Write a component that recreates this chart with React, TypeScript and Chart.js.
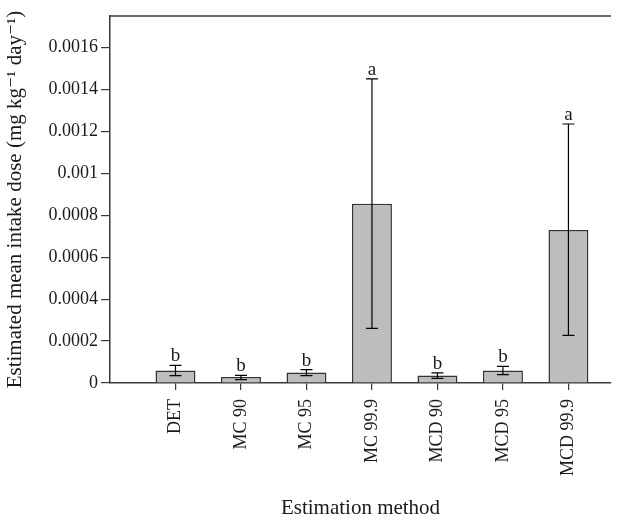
import React, { useEffect, useRef } from "react";
import { Chart, registerables } from "chart.js";

Chart.register(...registerables);

const categories = ["DET", "MC 90", "MC 95", "MC 99.9", "MCD 90", "MCD 95", "MCD 99.9"];
const meanValues = [0.00006, 0.000029, 0.00005, 0.000855, 0.000036, 0.00006, 0.00073];
const errorUpper = [0.000084, 0.000036, 0.0000635, 0.00145, 0.000048, 0.000079, 0.001235];
const errorLower = [0.000035, 0.000016, 0.000035, 0.00026, 0.000022, 0.00004, 0.000227];
const groupLetters = ["b", "b", "b", "a", "b", "b", "a"];
const yTickValues = [0, 0.0002, 0.0004, 0.0006, 0.0008, 0.001, 0.0012, 0.0014, 0.0016];
const yTickLabels = ["0", "0.0002", "0.0004", "0.0006", "0.0008", "0.001", "0.0012", "0.0014", "0.0016"];
const xTitle = "Estimation method";
const yTitle = "Estimated mean intake dose (mg kg\u207B\u00B9 day\u207B\u00B9)";

const FONT = "'Liberation Serif', 'DejaVu Serif', serif";
const AXIS_COLOR = "#3a3a3a";
const TEXT_COLOR = "#1a1a1a";

const extrasPlugin = {
  id: "extras",
  afterDatasetsDraw(chart: any) {
    const { ctx, chartArea, scales } = chart;
    const xs = scales.x;
    const ys = scales.y;
    ctx.save();
    // top frame line
    ctx.strokeStyle = AXIS_COLOR;
    ctx.lineWidth = 1.5;
    ctx.beginPath();
    ctx.moveTo(chartArea.left, chartArea.top);
    ctx.lineTo(chartArea.right, chartArea.top);
    ctx.stroke();
    // error bars
    ctx.strokeStyle = "#000";
    ctx.lineWidth = 1.2;
    const cap = 6;
    categories.forEach((_, i) => {
      const x = xs.getPixelForValue(i + 1);
      const yt = ys.getPixelForValue(errorUpper[i]);
      const yb = ys.getPixelForValue(errorLower[i]);
      ctx.beginPath();
      ctx.moveTo(x, yt);
      ctx.lineTo(x, yb);
      ctx.moveTo(x - cap, yt);
      ctx.lineTo(x + cap, yt);
      ctx.moveTo(x - cap, yb);
      ctx.lineTo(x + cap, yb);
      ctx.stroke();
      ctx.fillStyle = TEXT_COLOR;
      ctx.font = "19px " + FONT;
      ctx.textAlign = "center";
      ctx.textBaseline = "alphabetic";
      ctx.fillText(groupLetters[i], x, yt - 4);
    });
    ctx.restore();
  },
};

export default function App() {
  const ref = useRef<HTMLCanvasElement | null>(null);
  useEffect(() => {
    document.body.style.margin = "0";
    const canvas = ref.current!;
    const chart = new Chart(canvas, {
      type: "bar",
      data: {
        datasets: [
          {
            data: meanValues.map((v, i) => ({ x: i + 1, y: v })),
            backgroundColor: "#bdbdbd",
            borderColor: "#333333",
            borderWidth: 1.5,
            barPercentage: 0.61,
            categoryPercentage: 1,
          },
        ],
      },
      options: {
        responsive: false,
        animation: false,
        devicePixelRatio: 1,
        layout: { padding: { top: 16, right: 21, left: 0, bottom: 0 } },
        plugins: { legend: { display: false }, tooltip: { enabled: false } },
        scales: {
          x: {
            type: "linear",
            min: 0,
            max: 7.65,
            offset: false,
            afterBuildTicks: (scale: any) => {
              scale.ticks = categories.map((_, i) => ({ value: i + 1 }));
            },
            afterFit: (scale: any) => {
              scale.height = 144;
            },
            ticks: {
              autoSkip: false,
              minRotation: 90,
              maxRotation: 90,
              padding: 9,
              color: TEXT_COLOR,
              font: { family: FONT, size: 18 },
              callback: (v: any) => categories[Math.round(v) - 1] ?? "",
            },
            grid: { display: true, offset: false, drawOnChartArea: false, drawTicks: true, tickLength: 7, color: AXIS_COLOR, lineWidth: 1.2 },
            border: { display: true, color: AXIS_COLOR, width: 1.5 },
            title: {
              display: true,
              text: xTitle,
              color: TEXT_COLOR,
              font: { family: FONT, size: 21 },
              padding: { top: 0, bottom: 6 },
            },
          },
          y: {
            min: 0,
            max: 0.00175,
            afterBuildTicks: (scale: any) => {
              scale.ticks = yTickValues.map((v) => ({ value: v }));
            },
            afterFit: (scale: any) => {
              scale.width = 110;
            },
            ticks: {
              padding: 3,
              color: TEXT_COLOR,
              font: { family: FONT, size: 18 },
              callback: (v: any) => {
                const idx = yTickValues.findIndex((t) => Math.abs(t - v) < 1e-9);
                return idx >= 0 ? yTickLabels[idx] : "";
              },
            },
            grid: { display: true, drawOnChartArea: false, drawTicks: true, tickLength: 9, color: AXIS_COLOR, lineWidth: 1.2 },
            border: { display: true, color: AXIS_COLOR, width: 1.5 },
            title: {
              display: true,
              text: yTitle,
              color: TEXT_COLOR,
              font: { family: FONT, size: 21 },
              padding: { top: 3, bottom: 0 },
            },
          },
        },
      },
      plugins: [extrasPlugin],
    } as any);
    return () => chart.destroy();
  }, []);
  return (
    <div style={{ width: 632, height: 527, overflow: "hidden", position: "relative" }}>
      <canvas ref={ref} width={632} height={527} style={{ width: 632, height: 527, display: "block" }} />
    </div>
  );
}
